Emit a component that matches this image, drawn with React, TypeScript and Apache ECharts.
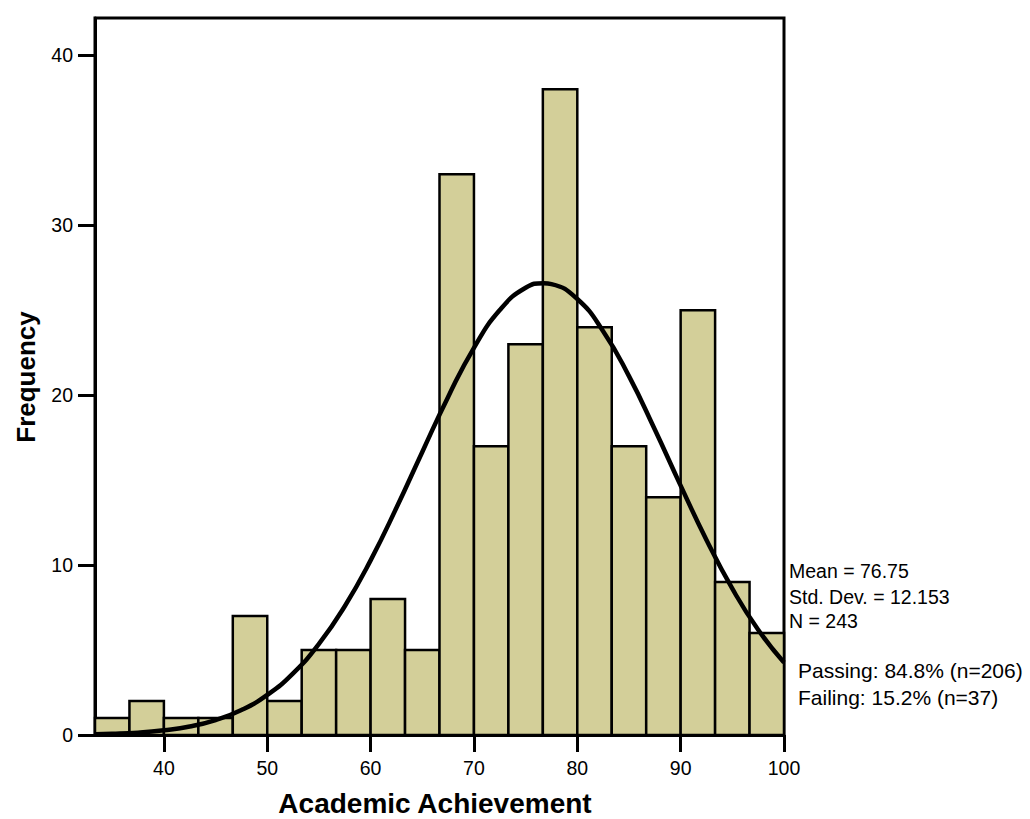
import React, { useEffect, useRef } from "react";
import * as echarts from "echarts";

// Histogram data (bins of equal width from 33.33 to 100)
const binStart = 33.3333;
const binWidth = 3.33333;
const frequencies = [1, 2, 1, 1, 7, 2, 5, 5, 8, 5, 33, 17, 23, 38, 24, 17, 14, 25, 9, 6];

// Normal curve
const curveX = [33.33, 35, 37.5, 40, 42.5, 45, 47.5, 50, 52.5, 55, 57.5, 60, 62.5, 65, 67.5, 70, 72.5, 75, 76.75, 77.5, 80, 82.5, 85, 87.5, 90, 92.5, 95, 97.5, 100];
const curveY = [0.05, 0.07, 0.14, 0.28, 0.5, 0.88, 1.47, 2.36, 3.63, 5.36, 7.58, 10.28, 13.37, 16.66, 19.9, 22.79, 25.01, 26.32, 26.59, 26.54, 25.66, 23.77, 21.12, 17.98, 14.68, 11.48, 8.61, 6.19, 4.27];

const xTicks = [40, 50, 60, 70, 80, 90, 100];
const yTicks = [0, 10, 20, 30, 40];

const statsLines = ["Mean = 76.75", "Std. Dev. = 12.153", "N = 243"];
const passLines = ["Passing: 84.8% (n=206)", "Failing: 15.2% (n=37)"];

const FONT = "'Liberation Sans', Arial, Helvetica, sans-serif";

export default function App() {
  const ref = useRef<HTMLDivElement>(null);
  useEffect(() => {
    document.body.style.margin = "0";
    const chart = echarts.init(ref.current!, null, { renderer: "svg" });
    const barData = frequencies.map((f, i) => [binStart + i * binWidth, binStart + (i + 1) * binWidth, f]);
    const curveData = curveX.map((x, i) => [x, curveY[i]]);
    chart.setOption({
      animation: false,
      backgroundColor: "#fff",
      textStyle: { fontFamily: FONT },
      grid: {
        left: 95,
        right: 246,
        top: 18,
        bottom: 84,
        show: true,
        borderColor: "#000",
        borderWidth: 3,
        backgroundColor: "transparent",
      },
      xAxis: {
        type: "value",
        min: binStart,
        max: 100,
        splitLine: { show: false },
        axisLine: { show: true, lineStyle: { color: "#000", width: 3 } },
        axisTick: { show: true, length: 17, lineStyle: { color: "#000", width: 3 }, customValues: xTicks },
        axisLabel: { color: "#000", fontSize: 19.5, margin: 23, fontFamily: FONT, customValues: xTicks },
      },
      yAxis: {
        type: "value",
        min: 0,
        max: 42.2,
        splitLine: { show: false },
        axisLine: { show: true, lineStyle: { color: "#000", width: 3 } },
        axisTick: { show: true, length: 17, lineStyle: { color: "#000", width: 3 }, customValues: yTicks },
        axisLabel: { color: "#000", fontSize: 19.5, margin: 22, fontFamily: FONT, customValues: yTicks },
      },
      series: [
        {
          type: "custom",
          data: barData,
          encode: { x: [0, 1], y: 2 },
          z: 2,
          renderItem: (params: any, api: any) => {
            const x0 = api.value(0);
            const x1 = api.value(1);
            const y = api.value(2);
            const p0 = api.coord([x0, y]);
            const p1 = api.coord([x1, 0]);
            return {
              type: "rect",
              shape: { x: p0[0], y: p0[1], width: p1[0] - p0[0], height: p1[1] - p0[1] },
              style: { fill: "#D3CF99", stroke: "#000", lineWidth: 2.5 },
            };
          },
        },
        {
          type: "line",
          data: curveData,
          smooth: true,
          showSymbol: false,
          z: 3,
          lineStyle: { color: "#000", width: 4.5 },
        },
      ],
      graphic: [
        {
          type: "text",
          rotation: Math.PI / 2,
          x: 26,
          y: 377,
          style: {
            text: "Frequency",
            font: `bold 26px ${FONT}`,
            fill: "#000",
            align: "center",
            verticalAlign: "middle",
          },
        },
        {
          type: "text",
          x: 435,
          y: 803,
          style: {
            text: "Academic Achievement",
            font: `bold 28px ${FONT}`,
            fill: "#000",
            align: "center",
            verticalAlign: "middle",
          },
        },
        ...statsLines.map((t, i) => ({
          type: "text",
          x: 789,
          y: [571, 597, 621][i],
          style: { text: t, font: `19.5px ${FONT}`, fill: "#000", align: "left", verticalAlign: "middle" },
        })),
        ...passLines.map((t, i) => ({
          type: "text",
          x: 798,
          y: [670, 697][i],
          style: { text: t, font: `21px ${FONT}`, fill: "#000", align: "left", verticalAlign: "middle" },
        })),
      ],
    });
    return () => chart.dispose();
  }, []);
  return <div ref={ref} style={{ width: 1030, height: 819 }} />;
}
